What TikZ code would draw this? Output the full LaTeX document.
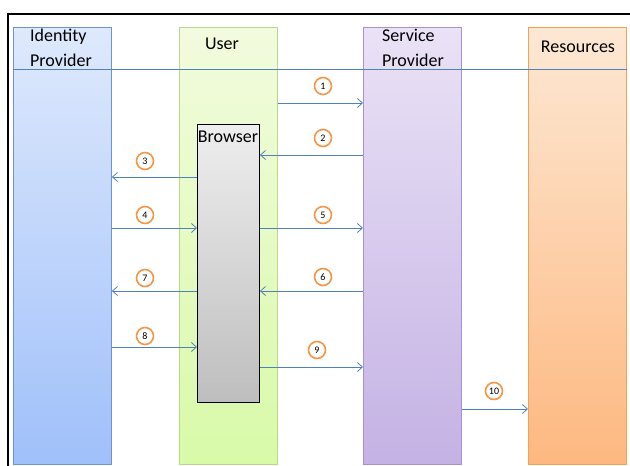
\documentclass[tikz,border=0pt]{standalone}
\usepackage{fontspec}
\setmainfont{Carlito}
\usetikzlibrary{arrows.meta}
\definecolor{msgblue}{HTML}{4F81BD}
\definecolor{numorange}{HTML}{F79646}
\tikzset{
  lane/.style={draw, line width=0.9pt, minimum width=98pt, minimum height=437pt, anchor=north west, inner sep=0pt},
  msg/.style={draw=msgblue, line width=0.8pt, -{Straight Barb[length=5pt,width=9pt]}},
  num/.style={circle, draw=numorange, line width=1.6pt, fill=white, minimum size=17pt, inner sep=0pt, font=\fontsize{10}{10}\selectfont},
  lanelabel/.style={font=\fontsize{18}{24.5}\selectfont, align=left, inner sep=0pt},
}
\begin{document}
\begin{tikzpicture}[x=1pt,y=1pt]
\useasboundingbox (0,0) rectangle (630,-466);
% frame
\draw[line width=2pt] (8,-466) -- (8,-14) -- (630,-14);
% lanes
\node[lane, draw={rgb,255:red,110;green,148;blue,208}, top color={rgb,255:red,222;green,233;blue,252}, bottom color={rgb,255:red,160;green,192;blue,250}] (idp) at (13,-27) {};
\node[lane, draw={rgb,255:red,186;green,216;blue,140}, top color={rgb,255:red,242;green,251;blue,222}, bottom color={rgb,255:red,216;green,250;blue,168}] (user) at (179,-27) {};
\node[lane, draw={rgb,255:red,168;green,146;blue,206}, top color={rgb,255:red,234;green,226;blue,246}, bottom color={rgb,255:red,196;green,178;blue,228}] (sp) at (363,-27) {};
\node[lane, draw={rgb,255:red,246;green,160;blue,82}, top color={rgb,255:red,253;green,232;blue,212}, bottom color={rgb,255:red,253;green,184;blue,128}] (res) at (528,-27) {};
% header line
\coordinate (hl) at (0,-69);
\draw[msgblue, line width=0.8pt] (idp.west |- hl) -- (res.east |- hl);
% labels
\node[lanelabel, anchor=center] (idplabel) at (61,-48) {Identity\\Provider};
\node[lanelabel, anchor=center] (userlabel) at (222,-44) {User};
\node[lanelabel, anchor=center] (splabel) at (413,-48) {Service\\Provider};
\node[lanelabel, anchor=center] (reslabel) at (578,-47) {Resources};
% browser
\node[draw, line width=0.9pt, anchor=north west, minimum width=62pt, minimum height=278pt, inner sep=0pt, top color={rgb,255:red,238;green,238;blue,238}, bottom color={rgb,255:red,190;green,190;blue,190}] (br) at (197,-124) {};
\node[font=\fontsize{18}{20}\selectfont, inner sep=0pt] (brlabel) at (228,-137) {Browser};
% messages
\coordinate (y1) at (0,-103);
\coordinate (y2) at (0,-155);
\coordinate (y3) at (0,-177);
\coordinate (y4) at (0,-228);
\coordinate (y6) at (0,-291);
\coordinate (y8) at (0,-347);
\coordinate (y9) at (0,-367);
\coordinate (y10) at (0,-409);
\draw[msg] (user.east |- y1) -- (sp.west |- y1);
\draw[msg] (sp.west |- y2) -- (br.east |- y2);
\draw[msg] (br.west |- y3) -- (idp.east |- y3);
\draw[msg] (idp.east |- y4) -- (br.west |- y4);
\draw[msg] (br.east |- y4) -- (sp.west |- y4);
\draw[msg] (sp.west |- y6) -- (br.east |- y6);
\draw[msg] (br.west |- y6) -- (idp.east |- y6);
\draw[msg] (idp.east |- y8) -- (br.west |- y8);
\draw[msg] (br.east |- y9) -- (sp.west |- y9);
\draw[msg] (sp.east |- y10) -- (res.west |- y10);
% numbers
\node[num] (n1) at (323,-86) {1};
\node[num] (n2) at (323,-138) {2};
\node[num] (n3) at (145,-161) {3};
\node[num] (n4) at (145,-215) {4};
\node[num] (n5) at (323,-215) {5};
\node[num] (n6) at (323,-277) {6};
\node[num] (n7) at (145,-278) {7};
\node[num] (n8) at (145,-336) {8};
\node[num] (n9) at (317,-350) {9};
\node[num] (n10) at (494,-391) {10};
\end{tikzpicture}
\end{document}
